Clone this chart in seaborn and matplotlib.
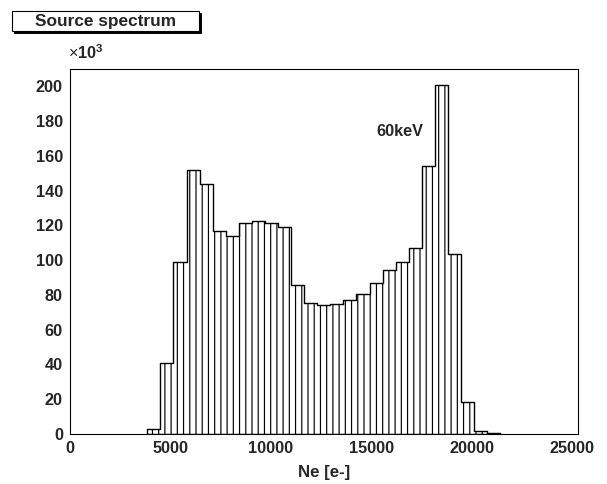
import numpy as np
import pandas as pd
import matplotlib
matplotlib.use("Agg")
import matplotlib.pyplot as plt
from matplotlib.patches import Rectangle
from matplotlib.ticker import MultipleLocator
import seaborn as sns

# ---- data ----
bin_lo = 3850.0          # lower edge of first filled bin (electrons)
bin_width = 651.0        # bin width (electrons)
counts_k = [2.5, 40.5, 99.0, 152.0, 143.5, 117.0, 113.7, 121.4, 122.2, 121.4,
            119.0, 85.4, 75.2, 74.0, 74.8, 77.1, 80.5, 86.5, 94.0, 99.0,
            107.2, 154.2, 200.6, 103.2, 18.0, 1.5, 0.4]   # counts x10^3
x_ticks = [0, 5000, 10000, 15000, 20000, 25000]
y_ticks = [0, 20, 40, 60, 80, 100, 120, 140, 160, 180, 200]
title_text = "Source spectrum"
x_label = "Ne [e-]"
peak_label = "60keV"
peak_label_pos = (16430, 174)

# ---- style ----
sns.set_style("white")
plt.rcParams['font.family'] = ['Liberation Sans', 'DejaVu Sans']
plt.rcParams['mathtext.fontset'] = 'custom'
plt.rcParams['mathtext.rm'] = 'Liberation Sans'
plt.rcParams['mathtext.bf'] = 'Liberation Sans:bold'
plt.rcParams['mathtext.it'] = 'Liberation Sans:italic'
plt.rcParams['hatch.linewidth'] = 0.75

W, H, DPI = 607, 484, 112.5
fig = plt.figure(figsize=(W / DPI, H / DPI), dpi=DPI)
L, R, T, B = 70, 578, 69, 433.7
ax = fig.add_axes([L / W, 1 - B / H, (R - L) / W, (B - T) / H])

n = len(counts_k)
edges = [float(bin_lo + bin_width * i) for i in range(n + 1)]
centers = [0.5 * (edges[i] + edges[i + 1]) for i in range(n)]
df = pd.DataFrame({"ne": centers, "counts": counts_k})

sns.histplot(data=df, x="ne", weights="counts", bins=edges, element="step",
             fill=True, facecolor="white", edgecolor="black", hatch="|||",
             linewidth=0.9, alpha=1, ax=ax)

ax.set_xlim(0, 25300)
ax.set_ylim(0, 210)
ax.set_xlabel("")
ax.set_ylabel("")
ax.set_xticks(x_ticks)
ax.set_xticklabels([str(t) for t in x_ticks])
ax.set_yticks(y_ticks)
ax.set_yticklabels([str(t) for t in y_ticks])
ax.xaxis.set_minor_locator(MultipleLocator(1000))
ax.yaxis.set_minor_locator(MultipleLocator(5))

lab_fs = 10.4
ax.tick_params(axis='x', which='major', direction='in', length=7, width=0.65,
               pad=4.5, labelsize=lab_fs, top=False, color='black')
ax.tick_params(axis='x', which='minor', direction='in', length=3.5, width=0.65,
               top=False, color='black')
ax.tick_params(axis='y', which='major', direction='in', length=9.6, width=0.65,
               pad=4.5, labelsize=lab_fs, right=False, color='black')
ax.tick_params(axis='y', which='minor', direction='in', length=4.9, width=0.65,
               right=False, color='black')
for lbl in ax.get_xticklabels() + ax.get_yticklabels():
    lbl.set_fontweight('bold')
for sp in ax.spines.values():
    sp.set_visible(True)
    sp.set_color('black')
    sp.set_linewidth(0.7)

ax.text(peak_label_pos[0], peak_label_pos[1], peak_label, fontsize=lab_fs,
        fontweight='bold', ha='center', va='center')

def fx(px):
    return px / W

def fy(py):
    return 1 - py / H

# x-axis title
fig.text(fx(324), fy(473), x_label, fontsize=lab_fs + 0.3, fontweight='bold',
         ha='center', va='center')

# exponent label
fig.text(fx(68), fy(53), r'$\times\mathbf{10^{3}}$', fontsize=lab_fs,
         ha='left', va='center')

# title box with shadow
bx0, by0, bx1, by1 = 11.7, 11.0, 199.0, 30.7
shadow = Rectangle((fx(bx0 + 2), fy(by1 + 2)), fx(bx1 - bx0), (by1 - by0) / H,
                   transform=fig.transFigure, facecolor='black',
                   edgecolor='black', linewidth=0.6)
box = Rectangle((fx(bx0), fy(by1)), fx(bx1 - bx0), (by1 - by0) / H,
                transform=fig.transFigure, facecolor='white',
                edgecolor='black', linewidth=0.7)
fig.patches.extend([shadow, box])
fig.text(fx((bx0 + bx1) / 2), fy((by0 + by1) / 2 + 0.5), title_text,
         fontsize=11, fontweight='bold', ha='center', va='center')

fig.savefig("out.png", dpi=DPI)
